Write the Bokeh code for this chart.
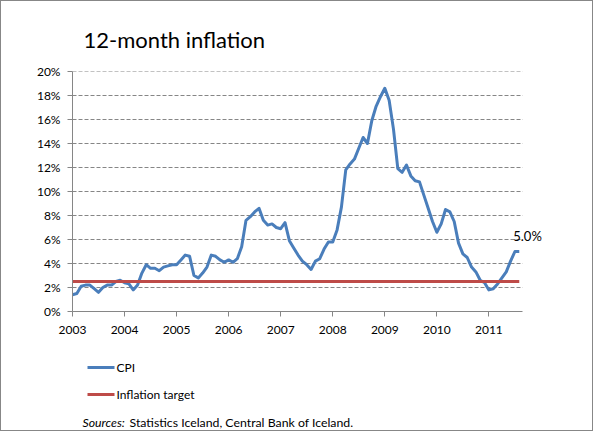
from bokeh.plotting import figure
from bokeh.layouts import column
from bokeh.models import Label, FixedTicker, ColumnDataSource, Range1d
from bokeh.embed import file_html
from bokeh.resources import INLINE

# ---- data (12-month CPI inflation, %, monthly Jan 2003 - Aug 2011) ----
start_year = 2003
cpi_2003 = [1.4, 1.5, 2.1, 2.2, 2.2, 1.9, 1.6, 2.0, 2.2, 2.2, 2.5, 2.6]
cpi_2004 = [2.4, 2.3, 1.8, 2.2, 3.2, 3.9, 3.6, 3.6, 3.4, 3.7, 3.8, 3.9]
cpi_2005 = [3.9, 4.3, 4.7, 4.6, 3.0, 2.8, 3.2, 3.7, 4.7, 4.6, 4.3, 4.1]
cpi_2006 = [4.3, 4.1, 4.4, 5.4, 7.6, 7.9, 8.3, 8.6, 7.6, 7.2, 7.3, 7.0]
cpi_2007 = [6.9, 7.4, 5.9, 5.3, 4.7, 4.2, 3.9, 3.5, 4.2, 4.4, 5.2, 5.8]
cpi_2008 = [5.8, 6.8, 8.7, 11.8, 12.3, 12.7, 13.6, 14.5, 14.0, 15.9, 17.1, 17.9]
cpi_2009 = [18.6, 17.6, 15.2, 11.9, 11.6, 12.2, 11.3, 10.9, 10.8, 9.7, 8.6, 7.5]
cpi_2010 = [6.6, 7.3, 8.5, 8.3, 7.5, 5.7, 4.8, 4.5, 3.7, 3.3, 2.6, 2.4]
cpi_2011 = [1.8, 1.9, 2.3, 2.8, 3.3, 4.2, 5.0, 5.0]
inflation_target = 2.5

year_ticks = [2003, 2004, 2005, 2006, 2007, 2008, 2009, 2010, 2011]
pct_ticks = [0, 2, 4, 6, 8, 10, 12, 14, 16, 18, 20]
title_text = "12-month inflation"
legend_labels = ["CPI", "Inflation target"]
sources_italic = "Sources:"
sources_rest = "Statistics  Iceland, Central Bank of Iceland."

cpi = cpi_2003 + cpi_2004 + cpi_2005 + cpi_2006 + cpi_2007 + cpi_2008 + cpi_2009 + cpi_2010 + cpi_2011
months = [start_year + i / 12 for i in range(len(cpi))]
target = [inflation_target for _ in cpi]
src = ColumnDataSource(dict(x=months, cpi=cpi, target=target))

FONT = "Lato"
GRAY = "#868686"
BLUE = "#4A7EBB"
RED = "#BE4B48"

W = 591
TOP_H, MAIN_H, BOT_H = 60, 285, 84
X_START = 2003
X_AXIS_END = 2003 + 103.8 / 12      # end of the category axis (Aug 2011)
PX_PER_YEAR = 52.05
FRAME_L = 71
FRAME_W = 470
X_FRAME_END = X_START + FRAME_W / PX_PER_YEAR


def blank(h):
    # frames of plots in a column are aligned, so map x to canvas pixels over the frame
    f = figure(width=W, height=h, output_backend="svg", toolbar_location=None,
               x_axis_type=None, y_axis_type=None, min_border=0,
               x_range=Range1d(FRAME_L, FRAME_L + FRAME_W), y_range=Range1d(h, 0))
    f.grid.visible = False
    f.outline_line_color = None
    f.background_fill_color = "white"
    f.border_fill_color = "white"
    return f


# ---- title strip ----
top = blank(TOP_H)
top.add_layout(Label(x=82, y=38, text=title_text, text_font=FONT, text_font_size="22px",
                     text_baseline="alphabetic", text_color="black"))

# ---- main chart ----
p = figure(width=W, height=MAIN_H, output_backend="svg", toolbar_location=None,
           x_range=Range1d(X_START, X_FRAME_END), y_range=Range1d(0, 20),
           min_border_left=FRAME_L, min_border_right=W - FRAME_L - FRAME_W,
           min_border_top=10, min_border_bottom=MAIN_H - 10 - 240)
p.outline_line_color = None
p.background_fill_color = "white"
p.border_fill_color = "white"
p.grid.visible = False

for ax in (p.xaxis[0], p.yaxis[0]):
    ax.axis_line_color = GRAY
    ax.major_tick_line_color = GRAY
    ax.major_tick_out = 5
    ax.major_tick_in = 0
    ax.minor_tick_line_color = None
    ax.major_label_text_font = FONT
    ax.major_label_text_font_size = "12px"
    ax.major_label_text_color = "black"
p.xaxis.ticker = FixedTicker(ticks=year_ticks)
p.xaxis.major_label_overrides = {y: str(y) for y in year_ticks}
p.xaxis.major_label_standoff = 9
p.xaxis.bounds = (X_START, X_AXIS_END)
p.yaxis.ticker = FixedTicker(ticks=pct_ticks)
p.yaxis.major_label_overrides = {t: f"{t}%" for t in pct_ticks}
p.yaxis.major_label_standoff = 7

# horizontal dashed gridlines, ending where the category axis ends
grid_y = pct_ticks[1:]
p.segment(x0=[X_START] * len(grid_y), x1=[X_AXIS_END] * len(grid_y), y0=grid_y, y1=grid_y,
          line_color=GRAY, line_dash="4 2", line_width=1)

r_cpi = p.line("x", "cpi", source=src, line_color=BLUE, line_width=3, line_join="round")
r_tgt = p.line("x", "target", source=src, line_color=RED, line_width=3)

p.add_layout(Label(x=months[-1], y=cpi[-1], text=f"{cpi[-1]:.1f}%", x_offset=-6, y_offset=16,
                   text_font=FONT, text_font_size="13px", text_baseline="middle",
                   text_color="black"))

# ---- legend and sources strip ----
bot = blank(BOT_H)
leg_y = [21, 48]
bot.segment(x0=[86, 86], x1=[113, 113], y0=leg_y, y1=leg_y, line_color=[BLUE, RED], line_width=3)
for lab, yy in zip(legend_labels, leg_y):
    bot.add_layout(Label(x=115, y=yy, text=lab, text_font=FONT, text_font_size="12px",
                         text_baseline="middle", text_color="black"))
bot.add_layout(Label(x=81, y=76, text=sources_italic, text_font=FONT, text_font_size="12.3px",
                     text_font_style="italic", text_baseline="middle", text_color="black"))
bot.add_layout(Label(x=128, y=76, text=sources_rest, text_font=FONT, text_font_size="12.3px",
                     text_baseline="middle", text_color="black"))

layout = column(top, p, bot, spacing=0)
layout.styles = {"border": "1px solid #878787", "background-color": "white"}

open("out.html", "w").write(file_html(layout, INLINE))
